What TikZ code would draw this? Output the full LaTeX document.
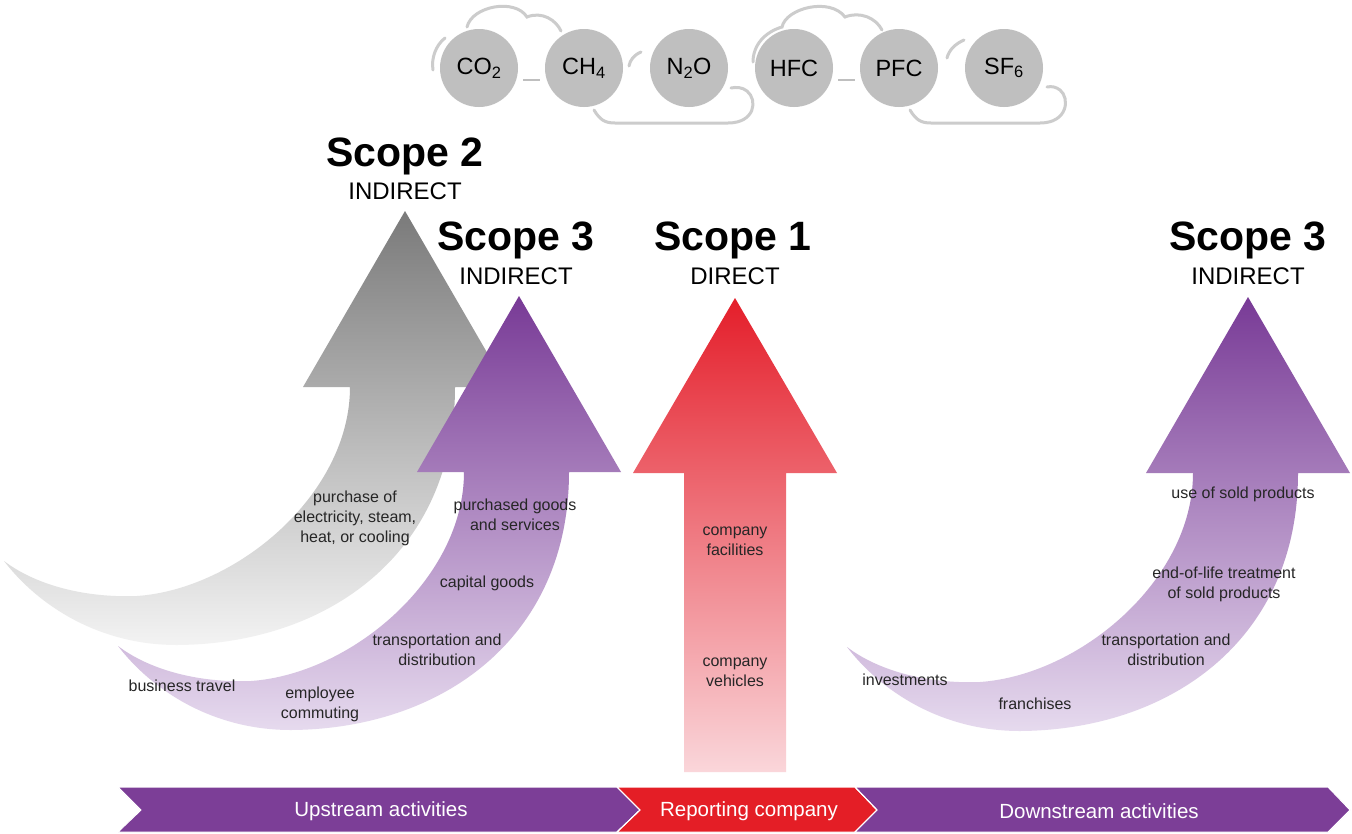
\documentclass[tikz,border=0pt]{standalone}
\usepackage{fontspec}
\setmainfont{Liberation Sans}
\usetikzlibrary{positioning}

\definecolor{bandpurple}{RGB}{124,62,151}
\definecolor{bandred}{RGB}{228,30,38}
\definecolor{purpletop}{RGB}{120,58,150}
\definecolor{purplebot}{RGB}{230,218,238}
\definecolor{greytop}{RGB}{122,122,122}
\definecolor{greybot}{RGB}{243,243,243}
\definecolor{redtop}{RGB}{228,30,42}
\definecolor{redbot}{RGB}{250,214,218}

\newcommand\ghgarrow[4]{% apex x, apex y, top colour, bottom colour
  % head, then the outer edge of the curl down to the tail and back up the inner edge
  \shade[top color=#3, bottom color=#4, shift={(#1,#2)}]
    (0,0) -- (102,176) -- (50,176)
    .. controls (50,343) and (-78,433) .. (-228,434)
    .. controls (-308,434) and (-368,393) .. (-401,350)
    .. controls (-368,375) and (-318,387) .. (-268,385)
    .. controls (-168,378) and (-55,283) .. (-55,176)
    -- (-102,176) -- cycle;
}

\begin{document}
\begin{tikzpicture}[x=1pt, y=-1pt,
    gas/.style={circle, fill=black!25, minimum size=78pt, inner sep=0pt, font=\fontsize{23.5}{25}\selectfont},
    puff/.style={draw=black!20, line width=3pt, line cap=round},
    link/.style={draw=black!25, line width=2.5pt, shorten <=7pt, shorten >=7pt},
    scopetitle/.style={anchor=base, font=\bfseries\fontsize{41}{41}\selectfont},
    scopekind/.style={anchor=base, font=\fontsize{24}{24}\selectfont},
    lbl/.style={align=center, text=black!85, font=\fontsize{16}{20}\selectfont},
    band/.style={draw=white, line width=1pt},
    bandtext/.style={text=white, font=\fontsize{20.5}{21}\selectfont}]
  \useasboundingbox (0,0) rectangle (1352,833);
  \fill[white] (0,0) rectangle (1352,833);

  % cloud outline behind the gases
  \draw[puff] (433,70) .. controls (431,58) and (436,45) .. (445,38);
  \draw[puff] (467,27) .. controls (472,6) and (515,-2) .. (527,17)
                       .. controls (542,11) and (556,20) .. (561,31);
  \draw[puff] (629,66) .. controls (630,60) and (634,55) .. (641,52);
  \draw[puff] (594,110) .. controls (600,120) and (605,123) .. (615,123) -- (728,123)
              .. controls (755,123) and (758,100) .. (747,91) .. controls (742,87) and (736,87) .. (731,88);
  \draw[puff] (753,62) .. controls (753,45) and (765,32) .. (782,27)
              .. controls (786,8) and (830,-3) .. (845,17)
              .. controls (860,11) and (876,18) .. (882,30);
  \draw[puff] (947,58) .. controls (949,50) and (955,44) .. (964,40);
  \draw[puff] (910,110) .. controls (916,120) and (921,123) .. (931,123) -- (1040,123)
              .. controls (1068,123) and (1070,98) .. (1060,90) .. controls (1056,87) and (1052,86) .. (1047,87);

  % greenhouse gases
  \foreach \name/\formula [count=\i from 0] in {co2/CO\textsubscript{2}, ch4/CH\textsubscript{4},
      n2o/N\textsubscript{2}O, hfc/HFC, pfc/PFC, sf6/SF\textsubscript{6}}
    \node[gas] (\name) at (479+105*\i,68) {\formula};
  \draw[link] (co2.-18) -- (ch4.198);
  \draw[link] (hfc.-18) -- (pfc.198);

  % scope 2 behind, scope 3 upstream in front
  \ghgarrow{405}{211}{greytop}{greybot}
  \ghgarrow{519}{296}{purpletop}{purplebot}
  \ghgarrow{1248}{297}{purpletop}{purplebot}
  \shade[top color=redtop, bottom color=redbot]
    (735,298) -- (837,473) -- (786,473) -- (786,772) -- (684,772) -- (684,473) -- (633,473) -- cycle;

  % headings
  \node[scopetitle] (s2) at (405,166) {Scope 2};
  \node[scopekind] (s2kind) at (405,199) {INDIRECT};
  \node[scopetitle] (s3up) at (516,250) {Scope 3};
  \node[scopekind] (s3upkind) at (516,284) {INDIRECT};
  \node[scopetitle] (s1) at (733,250) {Scope 1};
  \node[scopekind] (s1kind) at (735,284) {DIRECT};
  \node[scopetitle] (s3down) at (1248,250) {Scope 3};
  \node[scopekind] (s3downkind) at (1248,284) {INDIRECT};

  % activities
  \node[lbl] (elec) at (355,518) {purchase of\\electricity, steam,\\heat, or cooling};
  \node[lbl] (goods) at (515,515) {purchased goods\\and services};
  \node[lbl] (capital) at (487,583) {capital goods};
  \node[lbl] (uptrans) at (437,650) {transportation and\\distribution};
  \node[lbl] (travel) at (182,686) {business travel};
  \node[lbl] (commute) at (320,704) {employee\\commuting};
  \node[lbl] (facil) at (735,541) {company\\facilities};
  \node[lbl] (vehic) at (735,672) {company\\vehicles};
  \node[lbl] (use) at (1243,494) {use of sold products};
  \node[lbl] (eol) at (1224,584) {end-of-life treatment\\of sold products};
  \node[lbl] (downtrans) at (1166,650) {transportation and\\distribution};
  \node[lbl] (invest) at (905,680) {investments};
  \node[lbl] (franch) at (1035,704) {franchises};

  % value chain band
  \fill[band, fill=bandpurple] (118,787) -- (617,787) -- (640,810) -- (617,832) -- (118,832) -- (141,810) -- cycle;
  \fill[band, fill=bandred] (617,787) -- (855,787) -- (877,810) -- (855,832) -- (617,832) -- (640,810) -- cycle;
  \fill[band, fill=bandpurple] (855,787) -- (1328,787) -- (1350,810) -- (1328,832) -- (855,832) -- (877,810) -- cycle;
  \draw[white, line width=1pt] (617,787) -- (640,810) -- (617,832) (855,787) -- (877,810) -- (855,832);
  \node[bandtext] (up) at (381,811) {Upstream activities};
  \node[bandtext] (rep) at (749,811) {Reporting company};
  \node[bandtext] (down) at (1099,811) {Downstream activities};
\end{tikzpicture}
\end{document}
